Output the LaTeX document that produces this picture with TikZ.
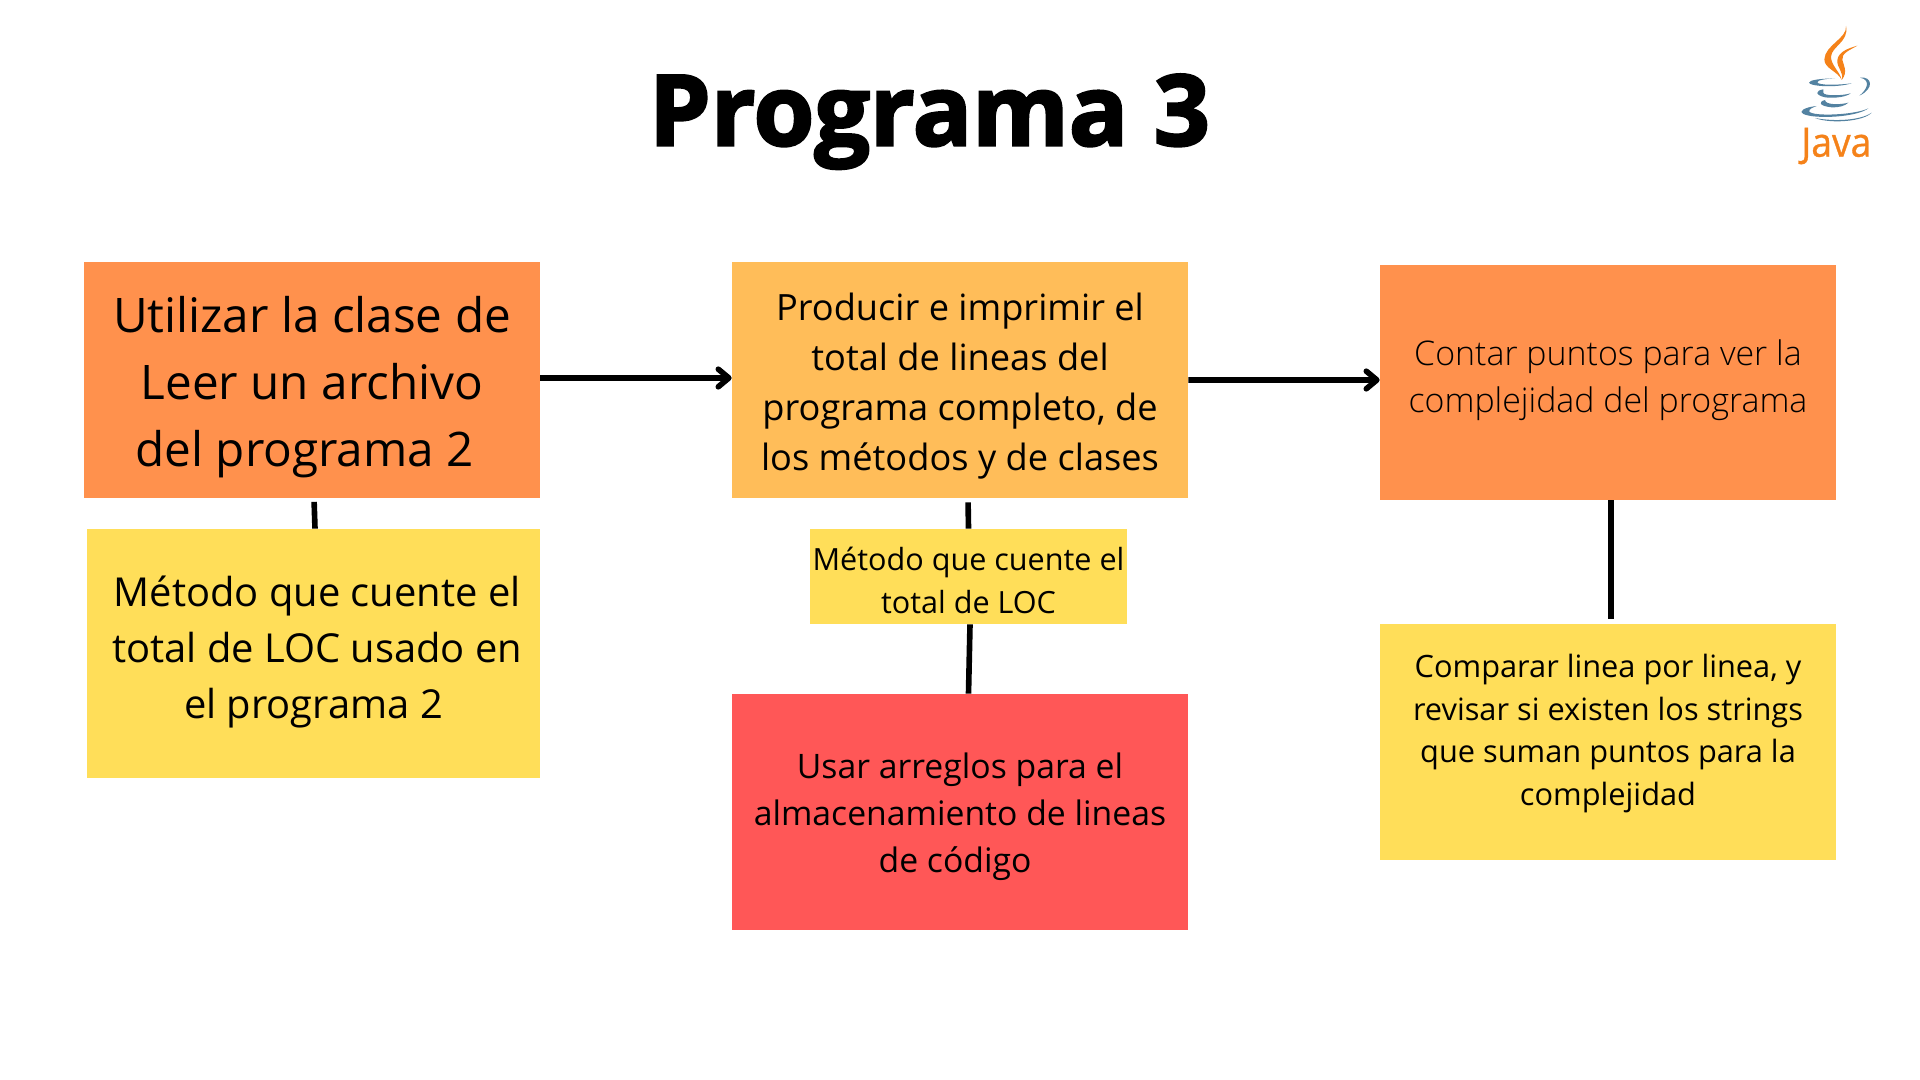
\documentclass[tikz,border=0pt]{standalone}
\usepackage{fontspec}
\usepackage{xcolor}
\usetikzlibrary{arrows.meta}
\setmainfont{Open Sans}
\newfontfamily\titlefont[BoldFeatures={FakeBold=2.5}]{Open Sans}
\newfontfamily\lightfont{Open Sans Light}
\newfontfamily\javafont[FakeStretch=0.92,FakeBold=0.8]{Open Sans}
\definecolor{naranja}{HTML}{FF914D}
\definecolor{durazno}{HTML}{FFBD59}
\definecolor{amarillo}{HTML}{FFDE59}
\definecolor{rojo}{HTML}{FF5757}
\definecolor{javanaranja}{HTML}{F58219}
\definecolor{javaazul}{HTML}{5382A1}
\tikzset{
	caja/.style={rectangle,inner sep=0pt,align=center,text=black,minimum width=9.12cm,minimum height=4.72cm},
	flecha/.style={-{Straight Barb[length=6pt,width=10pt,round]},black,line width=3.2pt},
	linea/.style={black,line width=3.2pt}
}
\begin{document}
\begin{tikzpicture}
					\useasboundingbox(0,0)rectangle(38.4,21.6);
					\fill[white](0,0)rectangle(38.4,21.6);
					\node[anchor=base,inner sep=0pt] (titulo) at (18.59,18.69){\titlefont\bfseries\fontsize{56}{70}\selectfont Programa 3};

					% fila de arriba
					\node[caja,fill=naranja,text height=105pt,font=\fontsize{27.1}{38.1}\selectfont] (clase) at (6.24,14){Utilizar la clase de\\Leer un archivo\\del programa 2\hspace*{8.4pt}};
					\node[caja,fill=durazno,text height=108.3pt,font=\fontsize{20.6}{28.6}\selectfont] (total) at (19.2,14){Producir e imprimir el\\total de lineas del\\programa completo, de\\los métodos y de clases};
					\node[caja,fill=naranja,minimum height=4.7cm,text depth=7pt,font=\lightfont\fontsize{19.3}{26.9}\selectfont] (puntos) at (32.16,13.95){Contar puntos para ver la\\complejidad del programa};

					% fila de abajo
					\node[caja,fill=amarillo,minimum width=9.06cm,minimum height=4.98cm,text depth=7.5pt,font=\fontsize{22.7}{31.9}\selectfont] (loc) at (6.27,8.53){\hspace*{4.2pt}Método que cuente el\\\hspace*{4.2pt}total de LOC usado en\\el programa 2};
					\node[caja,fill=amarillo,minimum width=6.34cm,minimum height=1.9cm,text height=42.5pt,font=\fontsize{17.4}{24.4}\selectfont] (loctotal) at (19.37,10.07){Método que cuente el\\total de LOC};
					\node[caja,fill=rojo,text height=73.4pt,font=\fontsize{19.2}{26.7}\selectfont] (arreglos) at (19.2,5.36){Usar arreglos para el\\almacenamiento de lineas\\de código\hspace*{5.6pt}};
					\node[caja,fill=amarillo,text depth=14pt,font=\fontsize{17.5}{24.3}\selectfont] (comparar) at (32.16,6.76){Comparar linea por linea, y\\revisar si existen los strings\\que suman puntos para la\\complejidad};

					% conectores
					\draw[flecha]([yshift=0.04cm]clase.east)--([yshift=0.04cm]total.west);
					\draw[flecha]([yshift=0cm]total.east)--([yshift=0.05cm]puntos.west);
					\draw[linea,shorten <=0.07cm]([xshift=0.04cm]clase.south)--([xshift=0.03cm]loc.north);
					\draw[linea,shorten <=0.08cm]([xshift=0.16cm]total.south)--(loctotal.north);
					\draw[linea]([xshift=0.03cm]loctotal.south)--([xshift=0.17cm]arreglos.north);
					\draw[linea,shorten >=0.1cm]([xshift=0.06cm]puntos.south)--([xshift=0.06cm]comparar.north);

					% logo de java
					\begin{scope}[shift={(35.2,21.6)},x=0.006667cm,y=-0.006667cm]
					\fill[javanaranja](258,78)..controls(262,115)and(195,135)..(193,178)..controls(192,205)and(235,215)..(245,240)..controls(240,215)and(212,195)..(213,170)..controls(214,140)and(268,125)..(258,78)--cycle;
					\fill[javanaranja](292,137)..controls(265,145)and(235,155)..(232,180)..controls(230,205)and(252,215)..(245,240)..controls(265,215)and(250,195)..(247,180)..controls(243,160)and(270,150)..(292,137)--cycle;
					\fill[javaazul](225,235)..controls(180,236)and(148,240)..(147,248)..controls(147,258)and(225,265)..(275,250)..controls(230,256)and(175,256)..(172,247)..controls(172,240)and(200,236)..(225,235)--cycle;
					\fill[javaazul](300,233)..controls(335,228)and(345,265)..(298,287)..controls(320,270)and(335,240)..(300,233)--cycle;
					\fill[javaazul](190,268)..controls(165,272)and(165,285)..(195,292)..controls(225,296)and(260,290)..(272,280)..controls(245,288)and(190,288)..(190,278)--cycle;
					\fill[javaazul](195,300)..controls(175,305)and(175,318)..(215,322)..controls(235,323)and(255,318)..(265,308)..controls(240,315)and(195,315)..(195,300)--cycle;
					\fill[javaazul](170,318)..controls(130,322)and(115,335)..(130,342)..controls(165,358)and(290,352)..(325,325)..controls(285,345)and(160,350)..(148,335)..controls(145,327)and(160,322)..(170,318)--cycle;
					\fill[javaazul](165,354)..controls(220,365)and(300,362)..(335,338)..controls(310,365)and(210,372)..(165,354)--cycle;
					\node[anchor=base,inner sep=0pt,text=javanaranja] (java) at (229,470){\javafont\fontsize{23}{28}\selectfont Java};
					\end{scope}
				\end{tikzpicture}
\end{document}
